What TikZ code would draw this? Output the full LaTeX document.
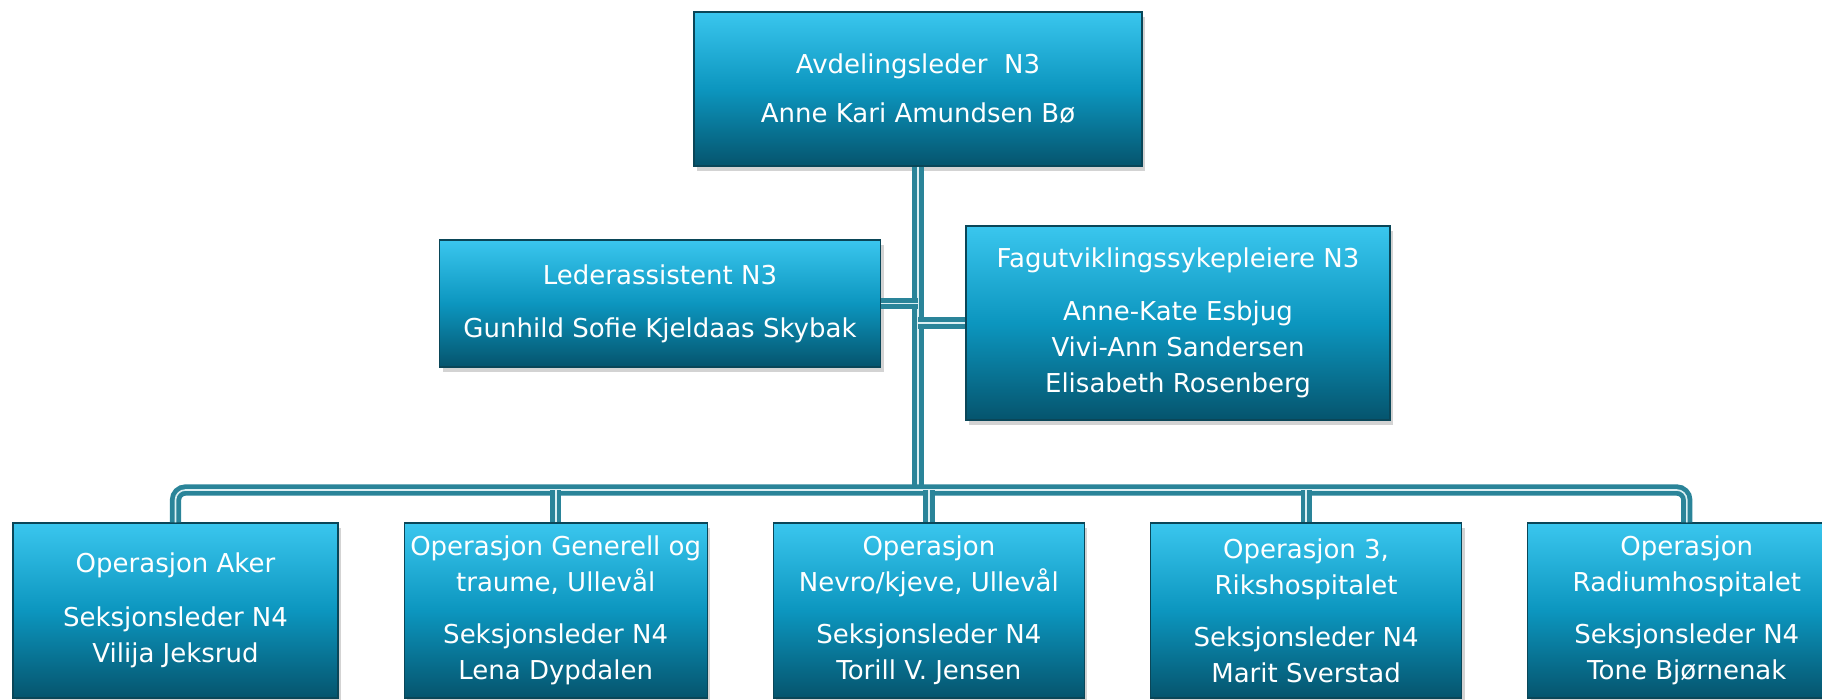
\documentclass[tikz,border=0pt]{standalone}
\usepackage{fontspec}
\setmainfont{DejaVu Sans}
\usetikzlibrary{positioning,shadows}
\definecolor{boxTop}{HTML}{3AC6EE}
\definecolor{boxMid}{HTML}{0C96BF}
\definecolor{boxBot}{HTML}{05546D}
\definecolor{boxEdge}{HTML}{0A4658}
\definecolor{linkOut}{HTML}{2A8499}
\definecolor{linkIn}{HTML}{DCEFF3}
\begin{document}
\begin{tikzpicture}[x=0.5pt,y=-0.5pt,orgbox/.style={draw=boxEdge,line width=0.6pt,top color=boxTop,bottom color=boxBot,middle color=boxMid,text=white,align=center,inner sep=2pt,font=\fontsize{13}{18}\selectfont,drop shadow={opacity=0.35,shadow xshift=1.5pt,shadow yshift=-2.5pt}},link/.style={draw=linkOut,line width=2.4pt,double=linkIn,double distance=0.8pt},unit/.style={orgbox,minimum width=155.5pt,minimum height=87.5pt}]
\useasboundingbox (0,0) rectangle (1822,700);
\node[orgbox,minimum width=224pt,minimum height=77pt] (avd) at (918,89) {Avdelingsleder\ \ N3\\[6.5pt]Anne Kari Amundsen Bø};
\node[orgbox,minimum width=220.5pt,minimum height=63.5pt] (leder) at (660,303.5) {Lederassistent N3\\[8.5pt]Gunhild Sofie Kjeldaas Skybak};
\node[orgbox,minimum width=212pt,minimum height=97pt] (fag) at (1178,323) {Fagutviklingssykepleiere N3\\[8.5pt]Anne-Kate Esbjug\\Vivi-Ann Sandersen\\Elisabeth Rosenberg};
% seksjoner
\node[unit,minimum width=162.5pt] (aker) at (175.5,610.5) {Operasjon Aker\\[9pt]Seksjonsleder N4\\Vilija Jeksrud};
\node[unit,minimum width=151.5pt,right=32.5pt of aker] (gen) {Operasjon Generell og\\traume, Ullevål\\[8pt]Seksjonsleder N4\\Lena Dypdalen};
\node[unit,right=32.5pt of gen] (nevro) {Operasjon\\Nevro/kjeve, Ullevål\\[8pt]Seksjonsleder N4\\Torill V. Jensen};
\node[unit,right=32.5pt of nevro] (rh) {Operasjon 3,\\Rikshospitalet\\[8pt]Seksjonsleder N4\\Marit Sverstad};
\node[unit,minimum width=159pt,right=32.5pt of rh] (radium) {Operasjon\\Radiumhospitalet\\[8pt]Seksjonsleder N4\\Tone Bjørnenak};
\coordinate (bus) at (918,490);
\draw[link] (avd.south) -- (bus);
\draw[link] (leder.east) -- (leder.east -| bus);
\draw[link] (fag.west) -- (fag.west -| bus);
\draw[link,rounded corners=5pt] (aker.north) |- (bus) -| (radium.north);
\draw[link] (gen.north) -- (gen.north |- bus);
\draw[link] (nevro.north) -- (nevro.north |- bus);
\draw[link] (rh.north) -- (rh.north |- bus);
\end{tikzpicture}
\end{document}
